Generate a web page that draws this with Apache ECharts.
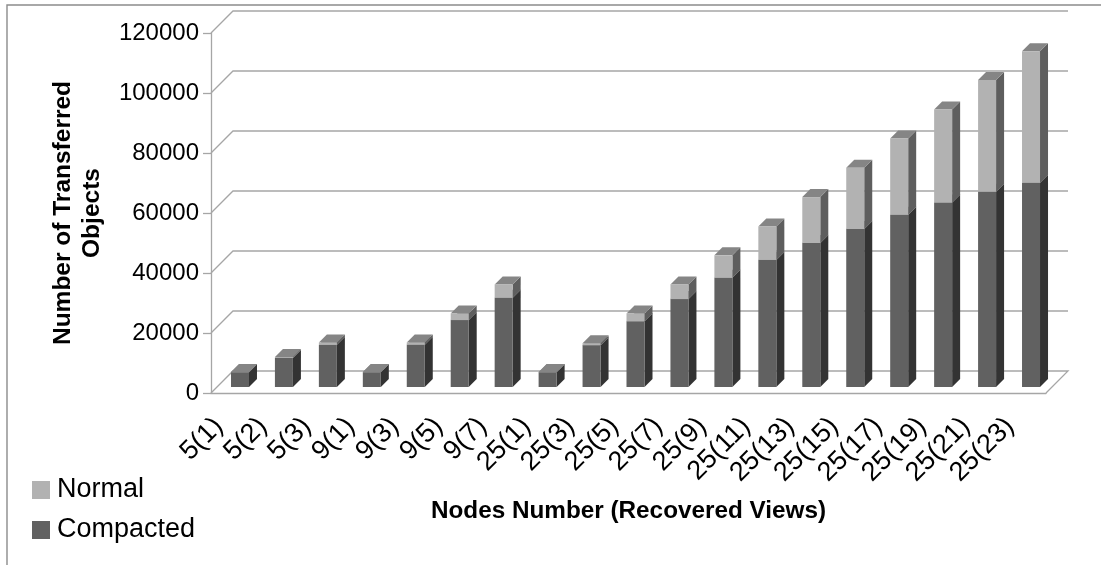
<!DOCTYPE html>
<html>
<head>
<meta charset="utf-8">
<style>
  html, body { margin: 0; padding: 0; background: #fff; }
  #main { width: 1101px; height: 565px; }
</style>
<script src="https://cdn.jsdelivr.net/npm/echarts@6/dist/echarts.min.js"></script>
</head>
<body>
<div id="main"></div>
<script>
// values
var categories = ['5(1)', '5(2)', '5(3)', '9(1)', '9(3)', '9(5)', '9(7)', '25(1)', '25(3)', '25(5)',
  '25(7)', '25(9)', '25(11)', '25(13)', '25(15)', '25(17)', '25(19)', '25(21)', '25(23)'];
var compacted = [4950, 9700, 14050, 4950, 14100, 22300, 29750, 4950, 13950, 21950,
  29300, 36400, 42350, 48000, 52700, 57400, 61500, 65100, 68100];
var normal = [50, 300, 800, 50, 750, 2200, 4450, 50, 650, 2550,
  4900, 7500, 11150, 15300, 20400, 25400, 31000, 37200, 43800];
var yTicks = [0, 20000, 40000, 60000, 80000, 100000, 120000];

var fontName = '"Liberation Sans", Arial, sans-serif';

// fake 3D: how far the back wall and the bars are pushed
var wallShift = 22;
var barWidth = 18, barDepth = 8, barShift = 7, barLift = 6;

function poly(points, color) {
  return { type: 'polygon', shape: { points: points }, style: { fill: color } };
}

function barRenderer(front, side, top) {
  return function (params, api) {
    var a = api.coord([api.value(0), api.value(1)]);
    var b = api.coord([api.value(0), api.value(2)]);
    var x0 = a[0] + barShift - barWidth / 2, x1 = x0 + barWidth;
    var y0 = a[1] - barLift, y1 = b[1] - barLift;
    var d = barDepth;
    return {
      type: 'group',
      children: [
        poly([[x1, y0], [x1 + d, y0 - d], [x1 + d, y1 - d], [x1, y1]], side),
        poly([[x0, y1], [x1, y1], [x1 + d, y1 - d], [x0 + d, y1 - d]], top),
        poly([[x0, y0], [x1, y0], [x1, y1], [x0, y1]], front)
      ]
    };
  };
}

// back wall lines, with the slanted bit on the left and the floor at 0
function wallRenderer(params, api) {
  var cs = params.coordSys;
  var p = api.coord([0, api.value(0)]);
  var left = cs.x, right = cs.x + cs.width, y = p[1];
  var line = { stroke: '#a6a6a6', lineWidth: 1.3, fill: null };
  var pts = [[left, y], [left + wallShift, y - wallShift], [right + wallShift, y - wallShift]];
  if (api.value(0) === 0) {
    pts.push([right, y]);
  }
  return { type: 'polyline', shape: { points: pts }, style: line };
}

var compactedData = categories.map(function (c, i) { return [i, 0, compacted[i]]; });
var normalData = categories.map(function (c, i) { return [i, compacted[i], compacted[i] + normal[i]]; });

var myChart = echarts.init(document.getElementById('main'));

var option = {
  animation: false,
  backgroundColor: '#fff',
  grid: { left: 211, right: 55, top: 33, bottom: 172 },
  legend: {
    data: ['Normal', 'Compacted'],
    orient: 'vertical',
    left: 32,
    top: 475,
    padding: 0,
    itemWidth: 18,
    itemHeight: 18,
    itemGap: 10,
    icon: 'rect',
    textStyle: { fontFamily: fontName, fontSize: 27, lineHeight: 30, color: '#000', padding: [0, 0, 0, 2] }
  },
  xAxis: {
    type: 'category',
    data: categories,
    name: 'Nodes Number (Recovered Views)',
    nameLocation: 'middle',
    nameGap: 106,
    nameTextStyle: { fontFamily: fontName, fontSize: 24.3, fontWeight: 'bold', color: '#000' },
    axisLine: { lineStyle: { color: '#a6a6a6', width: 1.3 } },
    axisTick: { length: 8, lineStyle: { color: '#a6a6a6', width: 1.3 } },
    axisLabel: {
      interval: 0,
      rotate: 45,
      margin: 15,
      padding: [0, 20, 0, 0],
      fontFamily: fontName,
      fontSize: 27,
      color: '#000'
    }
  },
  yAxis: {
    type: 'value',
    min: 0,
    max: 120000,
    interval: 20000,
    name: 'Number of Transferred\nObjects',
    nameLocation: 'middle',
    nameRotate: 90,
    nameGap: 104,
    nameTextStyle: { fontFamily: fontName, fontSize: 24.5, fontWeight: 'bold', color: '#000', lineHeight: 29 },
    splitLine: { show: false },
    axisLine: { show: true, lineStyle: { color: '#a6a6a6', width: 1.3 } },
    axisTick: { show: true, length: 8, lineStyle: { color: '#a6a6a6', width: 1.3 } },
    axisLabel: {
      margin: 12,
      fontFamily: fontName,
      fontSize: 24,
      color: '#000',
      formatter: function (v) { return String(v); }
    }
  },
  graphic: [
    { type: 'polyline', silent: true, shape: { points: [[1101, 5], [7, 5], [7, 565]] },
      style: { stroke: '#8c8c8c', lineWidth: 1.4, fill: null } }
  ],
  series: [
    {
      name: 'wall',
      type: 'custom',
      z: 1,
      clip: false,
      silent: true,
      renderItem: wallRenderer,
      data: yTicks.map(function (v) { return [v]; }),
      encode: { y: 0 }
    },
    {
      name: 'Compacted',
      type: 'custom',
      z: 3,
      clip: false,
      silent: true,
      itemStyle: { color: '#616161' },
      renderItem: barRenderer('#616161', '#333333', '#808080'),
      data: compactedData,
      encode: { x: 0, y: [1, 2] }
    },
    {
      name: 'Normal',
      type: 'custom',
      z: 4,
      clip: false,
      silent: true,
      itemStyle: { color: '#b2b2b2' },
      renderItem: barRenderer('#b2b2b2', '#5e5e5e', '#858585'),
      data: normalData,
      encode: { x: 0, y: [1, 2] }
    }
  ]
};

myChart.setOption(option);
</script>
</body>
</html>
